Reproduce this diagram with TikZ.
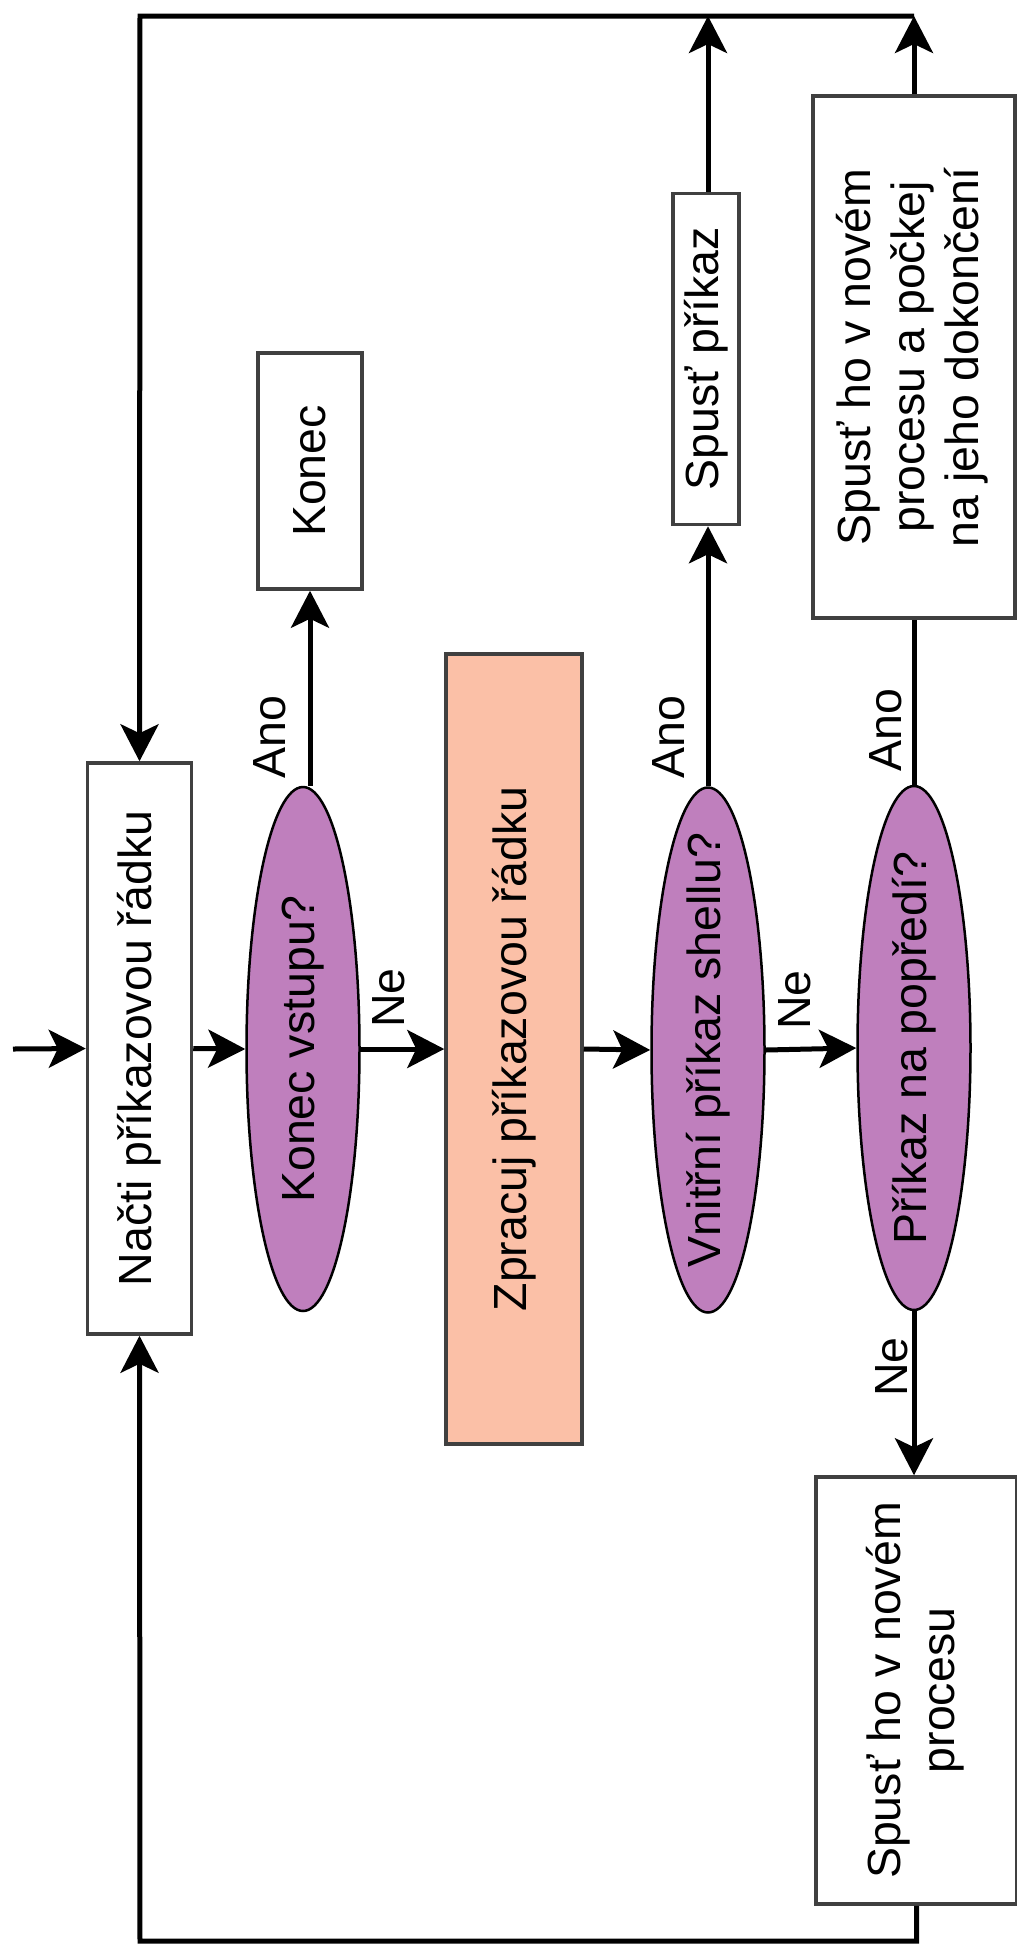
\documentclass[tikz,border=0pt]{standalone}
\usepackage{fontspec}
\setmainfont{Liberation Sans}
\usetikzlibrary{shapes.geometric,arrows.meta}
\definecolor{purp}{RGB}{191,127,189}
\definecolor{salmon}{RGB}{251,192,167}
\newcommand{\rt}[1]{\rotatebox{90}{#1}}
\newcommand{\rtm}[1]{\rotatebox{90}{\begin{tabular}{@{}c@{}}#1\end{tabular}}}
\begin{document}
\begin{tikzpicture}[x=1pt,y=-1pt,
  box/.style={rectangle,draw=black!75,line width=3.5pt,fill=white,inner sep=0pt},
  dec/.style={ellipse,draw=black,line width=2.5pt,fill=purp,inner sep=0pt},
  flow/.style={line width=5pt,-{Stealth[length=37pt,width=38pt,inset=9pt]}},
  plain/.style={line width=5pt},
  lbl/.style={inner sep=0pt},
  font=\fontsize{46.5}{54}\selectfont]
\useasboundingbox (0,0) rectangle (1017,1955);

% nodes
\node[box,minimum width=104pt,minimum height=571pt] (nacti) at (139.5,1048.5) {\rt{Načti příkazovou řádku}};
\node[dec,minimum width=113pt,minimum height=524pt] (konecq) at (303,1049) {};
\node[lbl] (konecqt) at (konecq.center) {\rt{Konec vstupu?}};
\node[box,minimum width=104pt,minimum height=236pt] (konec) at (310,471) {\rt{Konec}};
\node[box,draw=black!75,fill=salmon,minimum width=136pt,minimum height=790pt] (zprac) at (514,1049) {\rt{Zpracuj příkazovou řádku}};
\node[dec,minimum width=113pt,minimum height=525pt] (vnitr) at (708,1050) {};
\node[lbl] (vnitrt) at (vnitr.center) {\rt{Vnitřní příkaz shellu?}};
\node[box,minimum width=66pt,minimum height=331pt] (spust) at (706,359) {\rt{Spusť příkaz}};
\node[dec,minimum width=113pt,minimum height=524pt] (popredi) at (914,1048) {};
\node[lbl] (poprediT) at (popredi.center) {\rt{Příkaz na popředí?}};
\node[box,minimum width=202pt,minimum height=522pt] (wait) at (914,357) {\rtm{Spusť ho v novém\\procesu a počkej\\na jeho dokončení}};
\node[box,minimum width=201pt,minimum height=427pt] (bg) at (916.5,1690.5) {\rtm{Spusť ho v novém\\procesu}};

% labels
\node[lbl] (ano1) at (270,737) {\rt{Ano}};
\node[lbl] (ano2) at (669,737) {\rt{Ano}};
\node[lbl] (ano3) at (886,730) {\rt{Ano}};
\node[lbl] (ne1) at (389,998) {\rt{Ne}};
\node[lbl] (ne2) at (795,1000) {\rt{Ne}};
\node[lbl] (ne3) at (892,1367) {\rt{Ne}};

% coordinates
\coordinate (start) at (13,1049);
\coordinate (tl) at (140,16);
\coordinate (tr) at (914,16);
\coordinate (bl) at (140,1941);

% connectors
\draw[flow] (start) -- (nacti.west);
\draw[flow] (nacti.east) -- (konecq.west);
\draw[flow] (konecq.east) -- (zprac.west);
\draw[flow] (zprac.east) -- (vnitr.west);
\draw[flow] (vnitr.east) -- (popredi.west);
\draw[flow] (konecq.north -| konec.south) -- (konec.south);
\draw[flow] (vnitr.north) -- (vnitr.north |- spust.south);
\draw[plain] (popredi.north) -- (wait.south);
\draw[flow] (popredi.south) -- (popredi.south |- bg.north);
\draw[flow] (spust.north -| vnitr.north) -- (vnitr.north |- tl);
\draw[flow] (wait.north) -- (tr);
\draw[flow] (tr) -- (tl) -- (nacti.north);
\draw[flow] (bg.south) |- (bl) -- (nacti.south);
\end{tikzpicture}
\end{document}
